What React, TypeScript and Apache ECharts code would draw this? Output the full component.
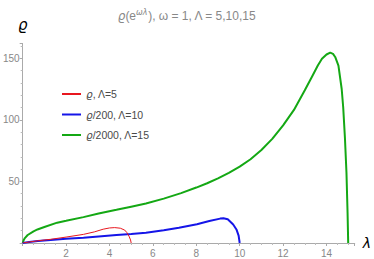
import React, { useEffect, useRef } from "react";
import * as echarts from "echarts";

const redX = [0, 0.3, 0.7, 1.29, 2, 2.8, 3.3, 3.71, 4, 4.24, 4.5, 4.7, 4.8, 4.9, 4.97, 5];
const redY = [0, 0.8, 1.8, 3, 4.8, 7, 9, 11.2, 12.2, 12.5, 12.0, 10.5, 8.5, 5.5, 2.5, 0];

const blueX = [0, 0.3, 0.7, 1.29, 2, 2.8, 3.5, 4.32, 5, 5.68, 6.5, 7.2, 8.03, 8.6, 9.1, 9.25, 9.45, 9.7, 9.85, 9.95, 10];
const blueY = [0, 0.8, 1.6, 2.4, 3.4, 4.3, 5.3, 6.5, 7.4, 8.4, 10.3, 12.3, 15.2, 17.8, 19.8, 20.1, 19.2, 15, 11, 6, 0];

const greenX = [0, 0.05, 0.1, 0.23, 0.5, 0.68, 1, 1.59, 2, 2.8, 3.5, 4.32, 5, 5.68, 6.5, 7.3, 8, 8.5, 9, 9.5, 10, 10.5, 11, 11.5, 12, 12.5, 13, 13.33, 13.6, 13.79, 14, 14.17, 14.3, 14.4, 14.55, 14.7, 14.77, 14.85, 14.92, 14.97, 15];
const greenY = [0, 2.5, 4, 6.5, 9.5, 11, 13, 16.5, 18, 21, 24, 27, 29.5, 32, 36, 40.5, 45, 48.5, 52.5, 57, 62, 68, 75.5, 84.5, 95.5, 108, 124, 135, 144, 149.5, 153, 154.5, 153.5, 151, 144, 125, 110, 85, 57, 25, 0];

const seriesNames = ["ϱ, Λ=5", "ϱ/200, Λ=10", "ϱ/2000, Λ=15"];
const seriesColors = ["#e8171f", "#1515e8", "#14a814"];
const seriesWidths = [1, 2, 2];

const zip = (xs: number[], ys: number[]) => xs.map((x, i) => [x, ys[i]]);

export default function App() {
  const ref = useRef<HTMLDivElement>(null);
  useEffect(() => {
    if (!ref.current) return;
    const chart = echarts.init(ref.current, undefined, { renderer: "svg" });
    const datas = [zip(redX, redY), zip(blueX, blueY), zip(greenX, greenY)];
    const legendRich = (name: string) => "{i|ϱ}" + name.slice(1);
    chart.setOption({
      animation: false,
      title: {
        text: "{i|ϱ}{n|(e}{s|ωλ}{n|), ω = 1, Λ = 5,10,15}",
        left: "center",
        top: 3,
        textStyle: {
          fontWeight: "normal",
          rich: {
            i: { fontSize: 12, fontStyle: "italic", fontWeight: "normal", color: "#888", fontFamily: "DejaVu Sans", verticalAlign: "bottom" },
            n: { fontSize: 12, fontWeight: "normal", color: "#888", fontFamily: "Liberation Sans", verticalAlign: "bottom" },
            s: { fontSize: 8, fontWeight: "normal", color: "#888", fontFamily: "DejaVu Sans", fontStyle: "italic", verticalAlign: "top", padding: [0, 0, 6, 0] },
          },
        },
      },
      legend: {
        orient: "vertical",
        left: 56,
        top: 83.5,
        itemWidth: 19,
        itemHeight: 10,
        itemGap: 9.5,
        data: seriesNames,
        formatter: legendRich,
        itemStyle: { opacity: 0 },
        textStyle: {
          color: "#4a4a4a",
          fontSize: 10.5,
          fontFamily: "Liberation Sans",
          rich: {
            i: { fontStyle: "italic", fontSize: 10.5, color: "#4a4a4a", fontFamily: "DejaVu Sans" },
          },
        },
      },
      grid: { left: 20, right: 17.4, top: 43.4, bottom: 16 },
      xAxis: {
        type: "value",
        min: 0,
        max: 15.3,
        interval: 2,
        name: "λ",
        nameLocation: "end",
        nameGap: 8,
        nameTextStyle: { fontSize: 14, color: "#000", fontStyle: "italic", fontFamily: "DejaVu Sans", verticalAlign: "middle" },
        axisLine: { lineStyle: { color: "#aaa", width: 1 } },
        axisTick: { show: true, length: 3, lineStyle: { color: "#aaa" } },
        minorTick: { show: true, splitNumber: 4, length: 2, lineStyle: { color: "#bbb" } },
        axisLabel: { color: "#888", fontSize: 10, fontFamily: "Liberation Sans", showMinLabel: false, showMaxLabel: false, margin: 5 },
        splitLine: { show: false },
      },
      yAxis: {
        type: "value",
        min: 0,
        max: 162,
        interval: 50,
        name: "ϱ",
        nameLocation: "end",
        nameGap: 11,
        nameTextStyle: { fontSize: 15, color: "#000", fontStyle: "italic", fontFamily: "DejaVu Sans", align: "center" },
        axisLine: { show: true, lineStyle: { color: "#aaa", width: 1 } },
        axisTick: { show: true, length: 3, lineStyle: { color: "#aaa" } },
        minorTick: { show: true, splitNumber: 5, length: 2, lineStyle: { color: "#bbb" } },
        axisLabel: { color: "#888", fontSize: 10, fontFamily: "Liberation Sans", showMinLabel: false, showMaxLabel: false, margin: 3 },
        splitLine: { show: false },
      },
      series: seriesNames.map((name, i) => ({
        name,
        type: "line",
        data: datas[i],
        symbol: "none",
        showSymbol: false,
        smooth: false,
        color: seriesColors[i],
        lineStyle: { color: seriesColors[i], width: seriesWidths[i] },
        z: 3 - i,
      })),
    });
    return () => chart.dispose();
  }, []);
  return <div ref={ref} style={{ width: 374, height: 259, position: "absolute", left: 0, top: 0 }} />;
}
